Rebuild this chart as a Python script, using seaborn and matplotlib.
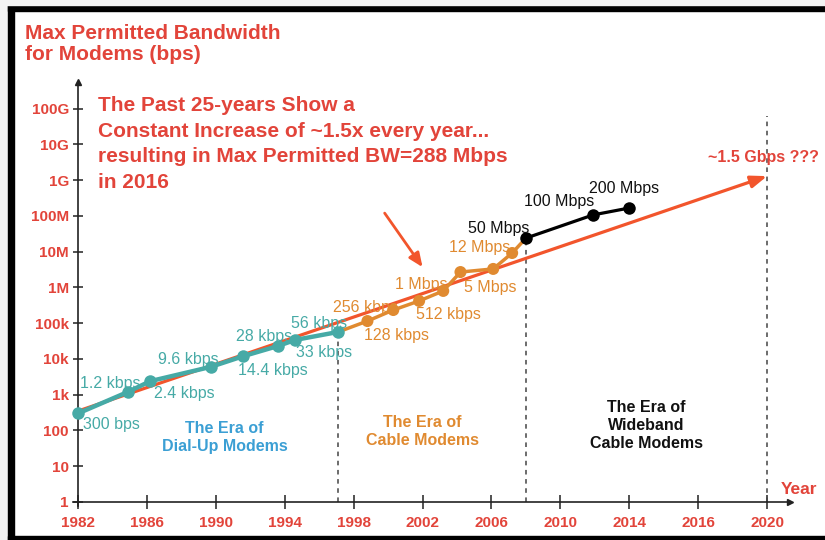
import numpy as np
import pandas as pd
import matplotlib
matplotlib.use("Agg")
import matplotlib.pyplot as plt
from matplotlib.patches import Rectangle
import seaborn as sns

# x axis ticks (the original chart spaces them evenly, not by year)
tick_years = [1982, 1986, 1990, 1994, 1998, 2002, 2006, 2010, 2014, 2016, 2020]
y_ticks = [1, 10, 100, 1e3, 1e4, 1e5, 1e6, 1e7, 1e8, 1e9, 1e10, 1e11]
y_tick_labels = ["1", "10", "100", "1k", "10k", "100k", "1M", "10M", "100M", "1G", "10G", "100G"]

# dial-up modems
dialup_years = [1982, 1984.9, 1986.2, 1989.7, 1991.6, 1993.6, 1994.6, 1997.1]
dialup_bps = [300, 1200, 2400, 6000, 12000, 23000, 34000, 57000]
dialup_labels = ["300 bps", "1.2 kbps", "2.4 kbps", "9.6 kbps", "14.4 kbps", "28 kbps", "33 kbps", "56 kbps"]

# cable modems
cable_years = [1998.8, 2000.3, 2001.8, 2003.2, 2004.2, 2006.1, 2007.2]
cable_bps = [115e3, 234e3, 420e3, 800e3, 2.7e6, 3.3e6, 9.2e6]
cable_labels = ["128 kbps", "256 kbps", "512 kbps", "1 Mbps", "5 Mbps", "", "12 Mbps"]

# wideband cable modems
wide_years = [2008.0, 2011.9, 2014.0]
wide_bps = [24e6, 107e6, 167e6]
wide_labels = ["50 Mbps", "100 Mbps", "200 Mbps"]

# 1.5x per year trend
trend_years = [1982, 2020]
trend_bps = [350, 1.3e9]

era_bounds = [1997.1, 2008.0, 2020]

RED = "#e2443a"
TREND = "#f2552c"
TEAL = "#46aaa6"
ORANGE = "#e08a30"
BLUE = "#3b9fd4"

idx = np.arange(len(tick_years), dtype=float)


def fwd(x):
    x = np.asarray(x, dtype=float)
    out = np.interp(x, tick_years, idx)
    out = np.where(x < tick_years[0], (x - tick_years[0]) / 4.0, out)
    out = np.where(x > tick_years[-1], idx[-1] + (x - tick_years[-1]) / 4.0, out)
    return out


def inv(v):
    v = np.asarray(v, dtype=float)
    out = np.interp(v, idx, tick_years)
    out = np.where(v < 0, tick_years[0] + v * 4.0, out)
    out = np.where(v > idx[-1], tick_years[-1] + (v - idx[-1]) * 4.0, out)
    return out


sns.set_theme(style="white")
plt.rcParams["font.family"] = ["Liberation Sans", "DejaVu Sans"]

fig = plt.figure(figsize=(8.25, 5.4), dpi=100)
ax = fig.add_axes([0, 0, 1, 1])
ax.patch.set_alpha(0)
ax.set_xscale("function", functions=(fwd, inv))
ax.set_yscale("log")
ax.set_xlim(inv(-1.132), inv(10.84))
ax.set_ylim(10 ** -1.063, 10 ** 14.04)

# frame of the screenshot
fig.patches.append(Rectangle((0, 0), 8 / 825, 1, transform=fig.transFigure, color="#f3f3f3", zorder=0))
fig.patches.append(Rectangle((8 / 825, 0), 6 / 825, 1 - 5 / 540, transform=fig.transFigure, color="black", zorder=0))
fig.patches.append(Rectangle((8 / 825, 1 - 11 / 540), 1, 6 / 540, transform=fig.transFigure, color="black", zorder=0))
fig.patches.append(Rectangle((0, 1 - 5 / 540), 1, 5 / 540, transform=fig.transFigure, color="#f3f3f3", zorder=0))
fig.patches.append(Rectangle((8 / 825, 0), 1, 4 / 540, transform=fig.transFigure, color="black", zorder=0))

# era separators
ax.vlines(era_bounds[0], 1, dialup_bps[-1], colors="#444444", linestyles=(0, (3, 3)), lw=1.1, zorder=1)
ax.vlines(era_bounds[1], 1, wide_bps[0], colors="#444444", linestyles=(0, (3, 3)), lw=1.1, zorder=1)
ax.vlines(era_bounds[2], 1, 10 ** 10.8, colors="#444444", linestyles=(0, (3, 3)), lw=1.1, zorder=1)

# trend arrow
ax.annotate("", xy=(trend_years[1], trend_bps[1]), xytext=(trend_years[0], trend_bps[0]),
            arrowprops=dict(arrowstyle="-|>,head_length=0.8,head_width=0.3", color=TREND, lw=2.3,
                            shrinkA=0, shrinkB=0), zorder=2)

# series
cable_df = pd.DataFrame({"year": [dialup_years[-1]] + cable_years + [wide_years[0]],
                         "bps": [dialup_bps[-1]] + cable_bps + [wide_bps[0]]})
sns.lineplot(data=cable_df, x="year", y="bps", color=ORANGE, lw=2.5, ax=ax, zorder=3)
sns.scatterplot(x=cable_years, y=cable_bps, color=ORANGE, s=75, edgecolor="none", ax=ax, zorder=4)

dial_df = pd.DataFrame({"year": dialup_years, "bps": dialup_bps})
sns.lineplot(data=dial_df, x="year", y="bps", color=TEAL, lw=3.2, marker="o", markersize=9,
             markeredgewidth=0, ax=ax, zorder=5)

wide_df = pd.DataFrame({"year": wide_years, "bps": wide_bps})
sns.lineplot(data=wide_df, x="year", y="bps", color="black", lw=2.3, marker="o", markersize=9,
             markeredgewidth=0, ax=ax, zorder=6)

# axes with arrows
for s in ["top", "right"]:
    ax.spines[s].set_visible(False)
ax.spines["left"].set_position(("data", 1982))
ax.spines["bottom"].set_position(("data", 1))
ax.spines["left"].set_bounds(10 ** -0.1, 10 ** 11.7)
ax.spines["bottom"].set_bounds(inv(-0.07), inv(10.3))
for s in ["left", "bottom"]:
    ax.spines[s].set_color("#222222")
    ax.spines[s].set_linewidth(1.2)
ax.plot([1982], [10 ** 11.75], marker="^", color="#222222", markersize=5, clip_on=False)
ax.plot([inv(10.33)], [1], marker=">", color="#222222", markersize=5, clip_on=False)

ax.set_xlim(inv(-1.132), inv(10.84))
ax.set_ylim(10 ** -1.063, 10 ** 14.04)
ax.set_xticks(tick_years)
ax.set_xticklabels([str(y) for y in tick_years])
ax.set_yticks(y_ticks)
ax.set_yticklabels(y_tick_labels)
ax.minorticks_off()
ax.tick_params(axis="x", direction="inout", length=10, width=1.1, color="#222222",
               pad=5, labelsize=11, labelcolor=RED)
ax.tick_params(axis="y", direction="inout", length=7, width=1.1, color="#222222",
               pad=3, labelsize=11, labelcolor=RED)
ax.tick_params(bottom=True, left=True)
for t in ax.get_xticklabels() + ax.get_yticklabels():
    t.set_fontweight("bold")
ax.set_xlabel("")
ax.set_ylabel("")

# point labels (offsets in pixels)
dial_off = [(5, -11), (-48, 8), (4, -12), (-53, 7), (-5, -14), (-42, 10), (1, -13), (-47, 8)]
for x, y, lab, off in zip(dialup_years, dialup_bps, dialup_labels, dial_off):
    ax.annotate(lab, (x, y), xytext=off, textcoords="offset pixels", color=TEAL,
                fontsize=11.5, ha="left", va="center", zorder=7)
cable_off = [(-3, -14), (-60, 3), (-3, -14), (-48, 6), (4, -15), (0, 0), (-63, 6)]
for x, y, lab, off in zip(cable_years, cable_bps, cable_labels, cable_off):
    ax.annotate(lab, (x, y), xytext=off, textcoords="offset pixels", color=ORANGE,
                fontsize=11.5, ha="left", va="center", zorder=7)
wide_off = [(-58, 10), (-69, 13), (-40, 19)]
for x, y, lab, off in zip(wide_years, wide_bps, wide_labels, wide_off):
    ax.annotate(lab, (x, y), xytext=off, textcoords="offset pixels", color="#111111",
                fontsize=11.5, ha="left", va="center", zorder=7)

ax.annotate("~1.5 Gbps ???", (trend_years[1], trend_bps[1]), xytext=(-59, 19),
            textcoords="offset pixels", color=RED, fontsize=11.5, fontweight="bold",
            ha="left", va="center")

# era names
ax.text(1990.5, 10 ** 1.8, "The Era of\nDial-Up Modems", color=BLUE, fontsize=11.5,
        fontweight="bold", ha="center", va="center", linespacing=1.25)
ax.text(2002.0, 10 ** 1.96, "The Era of\nCable Modems", color=ORANGE, fontsize=11.5,
        fontweight="bold", ha="center", va="center", linespacing=1.25)
ax.text(2014.5, 10 ** 2.15, "The Era of\nWideband\nCable Modems", color="#111111", fontsize=11.5,
        fontweight="bold", ha="center", va="center", linespacing=1.25)

ax.annotate("Year", (inv(10.33), 1), xytext=(-9, 12), textcoords="offset pixels", color=RED,
            fontsize=12.5, fontweight="bold", ha="left", va="center")

# pointer arrow to the trend line
ax.annotate("", xy=(2002.0, 3.7e6), xytext=(1999.8, 1.2e8),
            arrowprops=dict(arrowstyle="-|>,head_length=0.7,head_width=0.3", color=TREND, lw=2,
                            shrinkA=0, shrinkB=0))

fig.text(25 / 825, 1 - 44 / 540, "Max Permitted Bandwidth\nfor Modems (bps)", color=RED,
         fontsize=15, fontweight="bold", ha="left", va="center", linespacing=1.15)
fig.text(98 / 825, 1 - 144 / 540,
         "The Past 25-years Show a\nConstant Increase of ~1.5x every year...\n"
         "resulting in Max Permitted BW=288 Mbps\nin 2016",
         color=RED, fontsize=15, fontweight="bold", ha="left", va="center", linespacing=1.45)

fig.savefig("out.png", dpi=100)
